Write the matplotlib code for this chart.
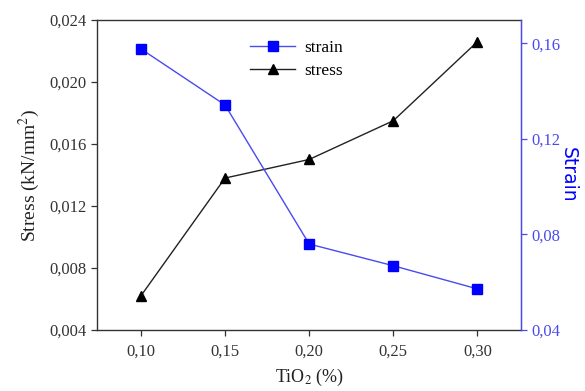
import matplotlib
matplotlib.use('Agg')
import matplotlib.pyplot as plt
from matplotlib.ticker import FuncFormatter

# ── Data ──────────────────────────────────────────────────
tio2   = [0.10, 0.15, 0.20, 0.25, 0.30]
stress = [0.0062, 0.0138, 0.0150, 0.0175, 0.0226]
strain = [0.1577, 0.1342, 0.0760, 0.0669, 0.0572]

x_ticks      = [0.10, 0.15, 0.20, 0.25, 0.30]
stress_ticks = [0.004, 0.008, 0.012, 0.016, 0.020, 0.024]
strain_ticks = [0.04, 0.08, 0.12, 0.16]

plt.rcParams['font.family'] = ['Liberation Serif', 'DejaVu Serif']
plt.rcParams['mathtext.fontset'] = 'stix'

BLUE = '#0000ff'
BLUE_LINE = '#4a4af0'


def comma_fmt(digits):
    return FuncFormatter(lambda v, _: f"{v:.{digits}f}".replace('.', ','))


# ── Figure ────────────────────────────────────────────────
fig = plt.figure(figsize=(5.85, 3.91), dpi=100)
ax = fig.add_axes([0.166, 0.156, 0.725, 0.793])
ax2 = ax.twinx()

l_strain, = ax2.plot(tio2, strain, color=BLUE_LINE, lw=1.0, marker='s',
                     ms=6.5, mfc=BLUE, mec=BLUE, label='strain')
l_stress, = ax.plot(tio2, stress, color='#222222', lw=1.0, marker='^',
                    ms=7, mfc='black', mec='black', label='stress')

ax.set_xlim(0.074, 0.326)
ax.set_ylim(0.004, 0.024)
ax2.set_ylim(0.04, 0.1698)

ax.set_xticks(x_ticks)
ax.set_yticks(stress_ticks)
ax2.set_yticks(strain_ticks)
ax.xaxis.set_major_formatter(comma_fmt(2))
ax.yaxis.set_major_formatter(comma_fmt(3))
ax2.yaxis.set_major_formatter(comma_fmt(2))

ax.tick_params(direction='out', length=4, width=0.9, labelsize=12,
               colors='#333333', labelcolor='#333333')
ax2.tick_params(direction='out', length=4, width=0.9, labelsize=12,
                colors=BLUE_LINE, labelcolor=BLUE_LINE)
ax.tick_params(axis='x', pad=6)

for s in ['left', 'bottom', 'top']:
    ax.spines[s].set_color('#333333')
    ax.spines[s].set_linewidth(1.0)
ax2.spines['right'].set_color(BLUE_LINE)
ax2.spines['right'].set_linewidth(1.0)
ax2.spines['left'].set_visible(False)
ax2.spines['top'].set_visible(False)
ax2.spines['bottom'].set_visible(False)

ax.set_xlabel('TiO$_2$ (%)', fontsize=13, color='#222222', labelpad=5)
ax.set_ylabel('Stress (kN/mm$^2$)', fontsize=14, color='#222222', labelpad=5)
ax2.set_ylabel('Strain', fontsize=13.5, color=BLUE, rotation=270,
               labelpad=12, family=['DejaVu Sans'])

ax.legend(handles=[l_strain, l_stress], loc='upper center',
          bbox_to_anchor=(0.47, 0.985), frameon=False, fontsize=12.5,
          handlelength=2.6, handletextpad=0.5, labelspacing=0.35)

fig.savefig('out.png', dpi=100)
